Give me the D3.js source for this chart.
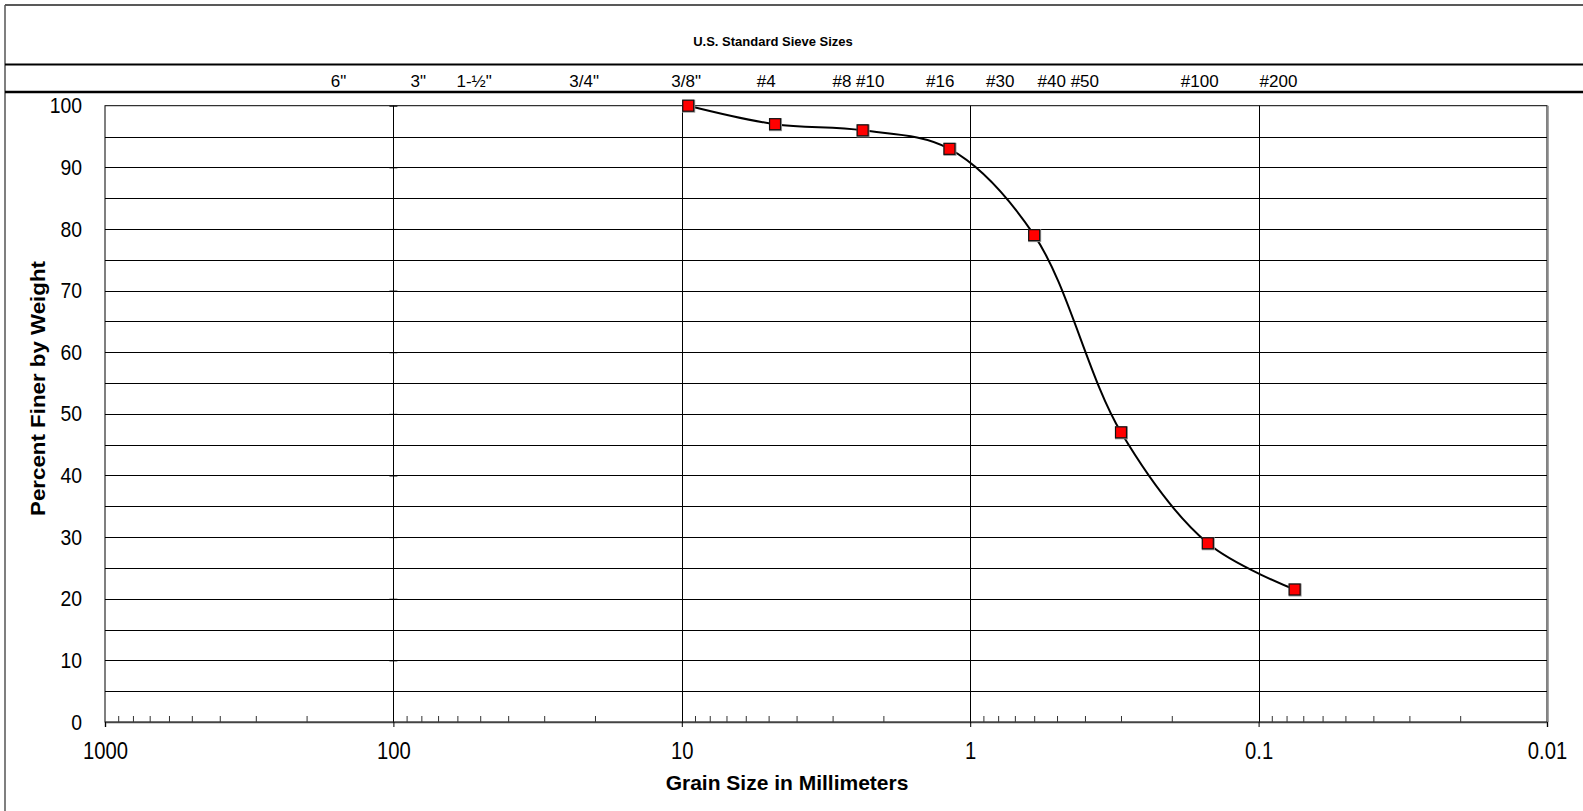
<!DOCTYPE html>
<html lang="en">
<head>
<meta charset="UTF-8">
<title>Grain Size Distribution</title>
<script src="https://d3js.org/d3.v7.min.js"></script>
<style>
  body { margin: 0; background: #fff; }
  svg text { font-family: "Liberation Sans", Arial, sans-serif; fill: #000; }
</style>
</head>
<body>
<svg width="1583" height="811"></svg>
<script>
// sieve analysis results
var grainSize = [9.5, 4.75, 2.36, 1.18, 0.6, 0.3, 0.15, 0.075];
var percentFiner = [100, 97, 96, 93, 79, 47, 29, 21.5];

// sieve names along the top and the grain size (mm) each one sits over
var sieveLabels = ['6"', '3"', '1-½"', '3/4"', '3/8"', '#4', '#8 #10', '#16', '#30', '#40 #50', '#100', '#200'];
var sieveLabelAt = [155, 82, 52.5, 21.8, 9.66, 5.1, 2.44, 1.27, 0.787, 0.457, 0.16, 0.0853];

var xTicks = [1000, 100, 10, 1, 0.1, 0.01];
var xMinor = [900, 800, 700, 600, 500, 400, 300, 200,
              90, 80, 70, 60, 50, 40, 30, 20,
              9, 8, 7, 6, 5, 4, 3, 2,
              0.9, 0.8, 0.7, 0.6, 0.5, 0.4, 0.3, 0.2,
              0.09, 0.08, 0.07, 0.06, 0.05, 0.04, 0.03, 0.02];
var yTicks = [0, 10, 20, 30, 40, 50, 60, 70, 80, 90, 100];
var yGrid = [5, 10, 15, 20, 25, 30, 35, 40, 45, 50, 55, 60, 65, 70, 75, 80, 85, 90, 95];

var svg = d3.select("svg");
var plotLeft = 105, plotRight = 1547, plotTop = 105.7, plotBottom = 722;

var x = d3.scaleLog().domain([1000, 0.01]).range([plotLeft, plotRight]);
var y = d3.scaleLinear().domain([0, 100]).range([plotBottom, plotTop]);

// outer frame and header rows
svg.append("line").attr("x1", 5).attr("x2", 1583).attr("y1", 5).attr("y2", 5)
    .attr("stroke", "#222").attr("stroke-width", 1.5);
svg.append("line").attr("x1", 5).attr("x2", 5).attr("y1", 5).attr("y2", 811)
    .attr("stroke", "#555").attr("stroke-width", 1.5);
svg.append("line").attr("x1", 5).attr("x2", 1583).attr("y1", 64.5).attr("y2", 64.5)
    .attr("stroke", "#000").attr("stroke-width", 2);
svg.append("line").attr("x1", 5).attr("x2", 1583).attr("y1", 92).attr("y2", 92)
    .attr("stroke", "#000").attr("stroke-width", 2.5);

svg.append("text")
    .attr("x", 773).attr("y", 46)
    .attr("text-anchor", "middle")
    .style("font-size", "13px").style("font-weight", "bold")
    .text("U.S. Standard Sieve Sizes");

svg.append("g").selectAll("text")
    .data(sieveLabels)
    .enter().append("text")
    .attr("x", (d, i) => x(sieveLabelAt[i]))
    .attr("y", 87)
    .attr("text-anchor", "middle")
    .style("font-size", "17px")
    .text(d => d);

// grid
var g = svg.append("g");
g.selectAll(".hgrid")
    .data(yGrid)
    .enter().append("line")
    .attr("class", "hgrid")
    .attr("x1", plotLeft).attr("x2", plotRight)
    .attr("y1", d => Math.round(y(d)) + 0.5).attr("y2", d => Math.round(y(d)) + 0.5)
    .attr("stroke", "#000").attr("stroke-width", 1);

g.selectAll(".vgrid")
    .data([100, 10, 1, 0.1])
    .enter().append("line")
    .attr("class", "vgrid")
    .attr("x1", d => Math.round(x(d)) + 0.5).attr("x2", d => Math.round(x(d)) + 0.5)
    .attr("y1", plotTop).attr("y2", plotBottom)
    .attr("stroke", "#000").attr("stroke-width", 1);

g.append("rect")
    .attr("x", plotLeft).attr("y", plotTop)
    .attr("width", plotRight - plotLeft).attr("height", plotBottom - plotTop)
    .attr("fill", "none").attr("stroke", "#000").attr("stroke-width", 1);
g.append("line")
    .attr("x1", plotRight + 1).attr("x2", plotRight + 1).attr("y1", plotTop).attr("y2", plotBottom)
    .attr("stroke", "#888").attr("stroke-width", 1.5);

// little marks where the y axis ticks cross at 100 mm
g.append("g")
    .attr("transform", "translate(" + x(100) + ",0)")
    .call(d3.axisLeft(y).tickValues(yTicks).tickSize(4).tickFormat(""))
    .call(a => a.select(".domain").remove());
g.append("g")
    .attr("transform", "translate(" + x(100) + ",0)")
    .call(d3.axisRight(y).tickValues(yTicks).tickSize(4).tickFormat(""))
    .call(a => a.select(".domain").remove());

// x axis
g.append("g")
    .attr("transform", "translate(0," + plotBottom + ")")
    .call(d3.axisBottom(x).tickValues(xMinor).tickSize(-6).tickFormat(""))
    .call(a => a.select(".domain").remove())
    .selectAll("line").attr("stroke", "#333");

var xAxis = g.append("g")
    .attr("transform", "translate(0," + plotBottom + ")")
    .call(d3.axisBottom(x).tickValues(xTicks).tickSize(5).tickPadding(16).tickFormat(d => String(d)));
xAxis.select(".domain").attr("stroke", "#444").attr("stroke-width", 1.5);
xAxis.selectAll("text")
    .attr("transform", "scale(0.88,1)")
    .style("font-size", "23px")
    .style("font-family", '"Liberation Sans", Arial, sans-serif');

// y axis
var yAxis = g.append("g")
    .attr("transform", "translate(" + plotLeft + ",0)")
    .call(d3.axisLeft(y).tickValues(yTicks).tickSize(0).tickPadding(26));
yAxis.select(".domain").remove();
yAxis.selectAll("text")
    .attr("transform", "scale(0.88,1)")
    .style("font-size", "22px")
    .style("font-family", '"Liberation Sans", Arial, sans-serif');

// axis titles
svg.append("text")
    .attr("x", 787).attr("y", 790)
    .attr("text-anchor", "middle")
    .style("font-size", "21px").style("font-weight", "bold")
    .text("Grain Size in Millimeters");

svg.append("text")
    .attr("transform", "translate(45,388.5) rotate(-90)")
    .attr("text-anchor", "middle")
    .attr("textLength", 255).attr("lengthAdjust", "spacingAndGlyphs")
    .style("font-size", "20px").style("font-weight", "bold")
    .text("Percent Finer by Weight");

// gradation curve
var points = grainSize.map((d, i) => ({ size: d, pct: percentFiner[i] }));

var line = d3.line()
    .x(d => x(d.size))
    .y(d => y(d.pct))
    .curve(d3.curveCatmullRom.alpha(0.5));

svg.append("path")
    .datum(points)
    .attr("d", line)
    .attr("fill", "none")
    .attr("stroke", "#000")
    .attr("stroke-width", 2);

var marks = svg.append("g").selectAll("g")
    .data(points)
    .enter().append("g")
    .attr("transform", d => "translate(" + x(d.size) + "," + y(d.pct) + ")");

marks.append("rect")
    .attr("x", -6).attr("y", -6).attr("width", 13).attr("height", 13)
    .attr("fill", "#999");
marks.append("rect")
    .attr("x", -5.5).attr("y", -5.5).attr("width", 11).attr("height", 11)
    .attr("fill", "#ff0000").attr("stroke", "#111").attr("stroke-width", 1.2);
</script>
</body>
</html>
